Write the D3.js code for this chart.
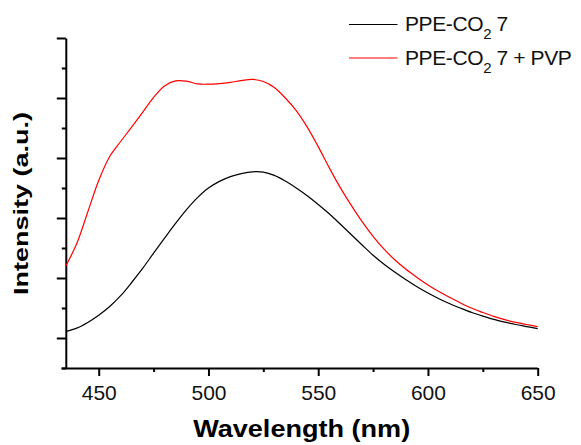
<!DOCTYPE html>
<html><head><meta charset="utf-8">
<script src="https://cdn.jsdelivr.net/npm/d3@7"></script>
<style>
html,body{margin:0;padding:0;background:#fff;}
svg{display:block;font-family:"Liberation Sans",Arial,sans-serif;}
</style></head>
<body>
<svg id="chart" width="581" height="445"></svg>
<script>
const wavelengths = [435,440,445,450,455,460,465,470,475,480,485,490,495,500,505,510,515,520,525,530,535,540,545,550,555,560,565,570,575,580,585,590,595,600,605,610,615,620,625,630,635,640,645,650];
const ppe = [1.22,1.33,1.52,1.76,2.05,2.41,2.85,3.32,3.83,4.33,4.82,5.28,5.68,6.00,6.22,6.38,6.48,6.54,6.53,6.42,6.23,6.00,5.74,5.45,5.14,4.80,4.45,4.10,3.76,3.46,3.19,2.94,2.71,2.50,2.31,2.14,1.99,1.85,1.73,1.62,1.53,1.45,1.38,1.31];
const ppePvp = [3.40,4.15,5.20,6.25,7.05,7.55,8.03,8.52,9.02,9.40,9.57,9.56,9.47,9.46,9.48,9.52,9.58,9.62,9.55,9.35,9.00,8.58,8.03,7.38,6.68,6.02,5.43,4.88,4.39,3.96,3.60,3.29,3.02,2.77,2.55,2.35,2.16,1.99,1.85,1.72,1.61,1.52,1.45,1.38];
const seriesNames = ["PPE-CO", "PPE-CO"];
const xTicksMajor = [450,500,550,600,650];
const xTicksMinor = [475,525,575,625];
const yTicksMajor = [1,3,5,7,9,11];
const yTicksMinor = [0,2,4,6,8,10];

const svg = d3.select("#chart");
const x = d3.scaleLinear().domain([435,650]).range([65.8,537.7]);
const y = d3.scaleLinear().domain([0,11]).range([368,38]);

// axes
const xAxisG = svg.append("g").attr("transform","translate(0,368)");
xAxisG.call(d3.axisBottom(x).tickValues(xTicksMajor).tickSize(8).tickSizeOuter(0).tickFormat(d3.format("d")));
const xMinor = svg.append("g").attr("transform","translate(0,368)");
xMinor.call(d3.axisBottom(x).tickValues(xTicksMinor).tickSize(4).tickSizeOuter(0).tickFormat(""));
xMinor.select(".domain").remove();
xAxisG.select(".domain").attr("d","M61.5,0.5H537.7");

const yAxisG = svg.append("g").attr("transform","translate(65.8,0)");
yAxisG.call(d3.axisLeft(y).tickValues(yTicksMajor).tickSize(9).tickSizeOuter(0).tickFormat(""));
const yMinor = svg.append("g").attr("transform","translate(65.8,0)");
yMinor.call(d3.axisLeft(y).tickValues(yTicksMinor).tickSize(4).tickSizeOuter(0).tickFormat(""));
yMinor.select(".domain").remove();

svg.selectAll(".domain").attr("stroke","#000").attr("stroke-width",2);
svg.selectAll(".tick line").attr("stroke","#000").attr("stroke-width",2);
xAxisG.selectAll(".tick text").attr("font-size",21).attr("font-family","'Liberation Sans',Arial,sans-serif")
  .attr("fill","#111").attr("dy",0).attr("y",32);

// lines
const line = d3.line().x((d,i)=>x(wavelengths[i])).y(d=>y(d)).curve(d3.curveCatmullRom.alpha(0.5));
svg.append("path").datum(ppe).attr("d",line).attr("fill","none").attr("stroke","#000").attr("stroke-width",1.2);
svg.append("path").datum(ppePvp).attr("d",line).attr("fill","none").attr("stroke","#ff0000").attr("stroke-width",1.2);

// titles
svg.append("text").attr("x",301.7).attr("y",437).attr("text-anchor","middle")
  .attr("font-size",23).attr("font-weight","bold").attr("textLength",217).attr("lengthAdjust","spacingAndGlyphs")
  .text("Wavelength (nm)");
svg.append("text").attr("transform","translate(27.5,203.5) rotate(-90)").attr("text-anchor","middle")
  .attr("font-size",21).attr("font-weight","bold").attr("textLength",183).attr("lengthAdjust","spacingAndGlyphs")
  .text("Intensity (a.u.)");

// legend
const legend = [{name:seriesNames[0], suffix:" 7", color:"#000", y:24.5},{name:seriesNames[1], suffix:" 7 + PVP", color:"#ff0000", y:58}];
legend.forEach(l=>{
  svg.append("line").attr("x1",349).attr("x2",397.5).attr("y1",l.y).attr("y2",l.y).attr("stroke",l.color).attr("stroke-width",1.2);
  const t = svg.append("text").attr("x",405).attr("y",l.y+6.5).attr("font-size",21).attr("letter-spacing",-0.4).attr("fill","#111");
  t.append("tspan").text(l.name);
  t.append("tspan").attr("font-size",15).attr("dy",8).text("2");
  t.append("tspan").attr("dy",-8).text(l.suffix);
});
</script>
</body></html>
